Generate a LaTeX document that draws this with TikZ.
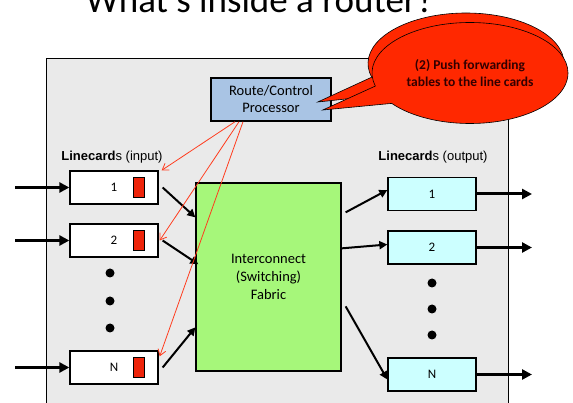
\documentclass[tikz,border=0pt]{standalone}
\usepackage{fontspec}
\setmainfont{Carlito}
\newfontfamily\arialfont{Liberation Sans}
\usetikzlibrary{arrows.meta,shapes.callouts}

\definecolor{chassis}{RGB}{234,234,234}
\definecolor{cpublue}{RGB}{169,196,228}
\definecolor{fabricgreen}{RGB}{166,247,122}
\definecolor{outcyan}{RGB}{204,255,255}
\definecolor{bufred}{RGB}{238,36,10}
\definecolor{callred}{RGB}{255,40,0}
\definecolor{pushred}{RGB}{255,60,30}

\begin{document}
\begin{tikzpicture}[x=1pt, y=-1pt, line width=1pt,
	card/.style={draw, line width=1.3pt, minimum width=88pt, minimum height=33pt, inner sep=0pt, font=\fontsize{13}{15}\selectfont},
	buffer/.style={draw, line width=0.8pt, fill=bufred, minimum width=11pt, minimum height=20pt, inner sep=0pt},
	fat/.style={line width=3pt, -{Triangle[length=10pt,width=10pt]}},
	link/.style={line width=2pt, -{Triangle[length=8pt,width=8pt]}},
	push/.style={draw=pushred, line width=0.8pt, -{Straight Barb[length=6pt,width=8pt]}},
	bubble/.style={ellipse callout, draw, line width=0.6pt, fill=callred, minimum width=196pt, minimum height=101pt, inner sep=0pt, callout pointer arc=22}]

	\useasboundingbox (0,0) rectangle (573,403);
	\clip (0,0) rectangle (573,403);

	% Titel, oben abgeschnitten
	\node[anchor=base, font=\fontsize{37}{40}\selectfont] (title) at (260,13) {What's inside a router?};

	% Gehaeuse
	\node[draw, line width=1.2pt, fill=chassis, anchor=north west, minimum width=462pt, minimum height=360pt] (box) at (46,58) {};

	% Route/Control Processor
	\node[draw, line width=1.5pt, fill=cpublue, minimum width=120pt, minimum height=43pt, align=center, font=\fontsize{14.5}{17}\selectfont] (rcp) at (271,99.5) {Route/Control\\Processor};

	% Linecards (input)
	\node[font=\arialfont\fontsize{13}{15}\selectfont] (inlabel) at (112,157) {\textbf{Linecard}s (input)};
	\node[card, fill=white] (in1) at (114,187.5) {1};
	\node[card, fill=white] (in2) at (114,240.5) {2};
	\node[card, fill=white] (inN) at (114,367.5) {N};
	\node[buffer] (buf1) at (138.5,187) {};
	\node[buffer] (buf2) at (138.5,240) {};
	\node[buffer] (bufN) at (138.5,367) {};

	\fill (110,273) circle (4.5pt);
	\fill (110,301) circle (4.5pt);
	\fill (110,328) circle (4.5pt);

	% Switching Fabric
	\node[draw, line width=1.3pt, fill=fabricgreen, minimum width=145pt, minimum height=188pt, align=center, font=\fontsize{14.5}{18}\selectfont] (fabric) at (268.5,277) {Interconnect\\(Switching)\\Fabric};

	% Linecards (output)
	\node[font=\arialfont\fontsize{13}{15}\selectfont] (outlabel) at (433,157) {\textbf{Linecard}s (output)};
	\node[card, fill=outcyan] (out1) at (432,194) {1};
	\node[card, fill=outcyan] (out2) at (432,247.5) {2};
	\node[card, fill=outcyan] (outN) at (432,374.5) {N};

	\fill (432,283) circle (4.5pt);
	\fill (432,309) circle (4.5pt);
	\fill (432,335) circle (4.5pt);

	% Ein- und Ausgaenge
	\coordinate (src1) at (15,187.5);
	\coordinate (src2) at (15,240.5);
	\coordinate (srcN) at (15,367.5);
	\coordinate (dst1) at (532,194);
	\coordinate (dst2) at (532,247.5);
	\coordinate (dstN) at (532,374.5);
	\draw[fat] (src1) -- (in1.west);
	\draw[fat] (src2) -- (in2.west);
	\draw[fat] (srcN) -- (inN.west);
	\draw[fat] (out1.east) -- (dst1);
	\draw[fat] (out2.east) -- (dst2);
	\draw[fat] (outN.east) -- (dstN);

	% Linecards <-> Fabric
	\draw[link] ([xshift=4pt]in1.east) -- ([yshift=-35pt]fabric.north west);
	\draw[link] ([xshift=4pt]in2.east) -- ([xshift=3pt,yshift=-82pt]fabric.north west);
	\draw[link] ([xshift=4pt]inN.east) -- ([yshift=-145pt]fabric.north west);
	\draw[link] ([xshift=4pt,yshift=-30pt]fabric.north east) -- ([yshift=4pt]out1.west);
	\draw[link] ([yshift=-66pt]fabric.north east) -- ([yshift=3pt]out2.west);
	\draw[link] ([xshift=4pt,yshift=-124pt]fabric.north east) -- ([yshift=-5pt]outN.west);

	% Tabellen an die Linecards
	\draw[push] ([xshift=-36pt]rcp.south) -- ([xshift=3pt]in1.north east);
	\draw[push] ([xshift=-32pt]rcp.south) -- ([xshift=1pt]in2.east);
	\draw[push] ([xshift=-28pt]rcp.south) -- ([xshift=1pt,yshift=-6pt]inN.north east);

	% Sprechblase
	\node[bubble, callout absolute pointer={([xshift=-14pt,yshift=-2.5pt]rcp.east)}] (tipback) at (466,63.5) {};
	\node[bubble, callout absolute pointer={([xshift=-9pt,yshift=-10.5pt]rcp.east)}, align=center, text=black!80!red, font=\bfseries\fontsize{13.5}{17}\selectfont] (tipfront) at (470,73) {(2) Push forwarding\\tables to the line cards};
\end{tikzpicture}
\end{document}
